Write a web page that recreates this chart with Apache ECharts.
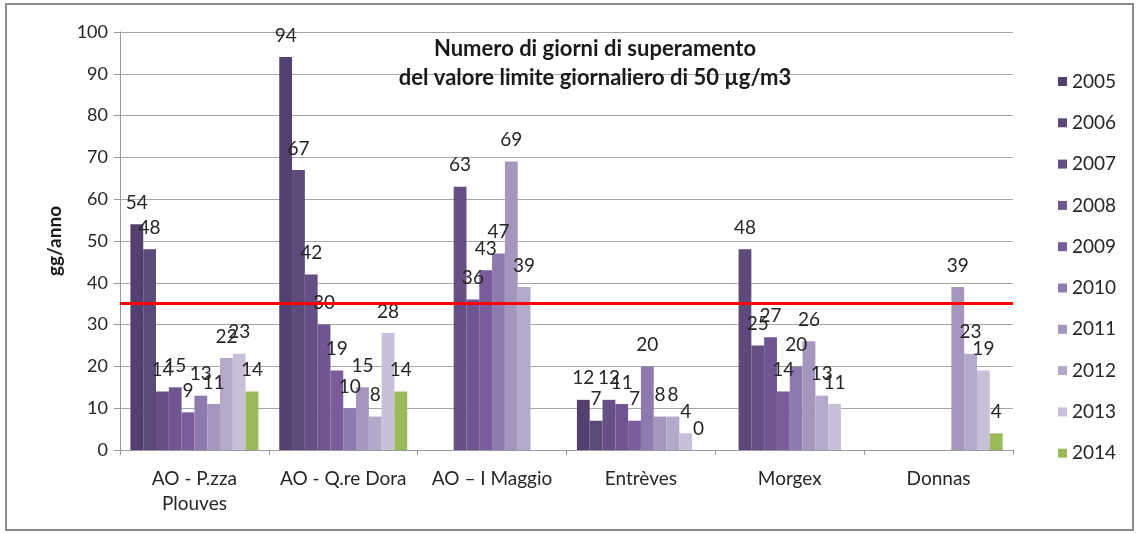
<!DOCTYPE html>
<html>
<head>
  <meta charset="UTF-8">
  <script src="https://cdn.jsdelivr.net/npm/echarts@6/dist/echarts.min.js"></script>
  <style>
    html, body { margin: 0; padding: 0; background: #fff; }
    #chart { width: 1139px; height: 534px; }
  </style>
</head>
<body>
  <div id="chart"></div>
  <script>
    // stations
    var stations = ['AO - P.zza\nPlouves', 'AO - Q.re Dora', 'AO \u2013 I Maggio', 'Entrèves', 'Morgex', 'Donnas'];
    var years = ['2005', '2006', '2007', '2008', '2009', '2010', '2011', '2012', '2013', '2014'];
    // days over the limit, one array per year ('-' = no measurement)
    var y2005 = [54, 94, '-', 12, '-', '-'];
    var y2006 = [48, 67, '-', 7, 48, '-'];
    var y2007 = [14, 42, 63, 12, 25, '-'];
    var y2008 = [15, 30, 36, 11, 27, '-'];
    var y2009 = [9, 19, 43, 7, 14, '-'];
    var y2010 = [13, 10, 47, 20, 20, '-'];
    var y2011 = [11, 15, 69, 8, 26, 39];
    var y2012 = [22, 8, 39, 8, 13, 23];
    var y2013 = [23, 28, '-', 4, 11, 19];
    var y2014 = [14, 14, '-', 0, '-', 4];
    var limitDays = 35;

    var yearData = [y2005, y2006, y2007, y2008, y2009, y2010, y2011, y2012, y2013, y2014];
    var colors = ['#524170', '#5c4a7a', '#664f85', '#6f5690', '#7a5c9a',
                  '#8d7aae', '#a496bd', '#b4a9ca', '#c8bfd9', '#9bbb59'];
    var font = 'Lato, "Open Sans", sans-serif';

    var series = years.map(function (yr, i) {
      var s = {
        name: yr,
        type: 'bar',
        barGap: 0,
        barCategoryGap: '14%',
        data: yearData[i],
        itemStyle: { color: colors[i] },
        label: {
          show: true,
          position: 'top',
          distance: 12,
          color: '#262626',
          fontFamily: font,
          fontSize: 19
        }
      };
      if (i === 0) {
        s.markLine = {
          silent: true,
          symbol: 'none',
          label: { show: false },
          lineStyle: { color: '#ff0000', width: 3, type: 'solid' },
          data: [{ yAxis: limitDays }]
        };
      }
      return s;
    });

    var chart = echarts.init(document.getElementById('chart'));
    chart.setOption({
      animation: false,
      color: colors,
      title: {
        text: 'Numero di giorni di superamento\ndel valore limite giornaliero di 50 µg/m3',
        left: 590,
        textAlign: 'center',
        top: 29,
        textStyle: {
          fontFamily: font,
          fontWeight: 'bold',
          fontSize: 22,
          lineHeight: 29,
          color: '#1a1a1a'
        }
      },
      legend: {
        orient: 'vertical',
        left: 1053,
        top: 67,
        itemWidth: 9,
        itemHeight: 9,
        itemGap: 22.3,
        icon: 'rect',
        data: years,
        textStyle: { fontFamily: font, fontSize: 19, color: '#262626', padding: [0, 0, 0, 0] }
      },
      graphic: [{
        type: 'rect',
        shape: { x: 6, y: 4, width: 1127, height: 526 },
        style: { fill: 'none', stroke: '#8a8a8a', lineWidth: 2 },
        silent: true,
        z: -1
      }],
      grid: { left: 120, right: 126, top: 32, bottom: 84 },
      xAxis: {
        type: 'category',
        data: stations,
        axisLine: { lineStyle: { color: '#9a9a9a', width: 1 } },
        axisTick: { show: true, length: 5, lineStyle: { color: '#9a9a9a' } },
        axisLabel: {
          fontFamily: font,
          fontSize: 19,
          color: '#262626',
          margin: 16,
          lineHeight: 25,
          interval: 0
        }
      },
      yAxis: {
        type: 'value',
        min: 0,
        max: 100,
        interval: 10,
        name: 'gg/anno',
        nameLocation: 'middle',
        nameGap: 56,
        nameRotate: 90,
        nameTextStyle: { fontFamily: font, fontWeight: 'bold', fontSize: 19, color: '#1a1a1a' },
        axisLine: { show: true, lineStyle: { color: '#9a9a9a' } },
        axisTick: { show: true, length: 6, lineStyle: { color: '#9a9a9a' } },
        axisLabel: { fontFamily: font, fontSize: 18, color: '#262626', margin: 12 },
        splitLine: { lineStyle: { color: '#a6a6a6', width: 1 } }
      },
      series: series
    });
  </script>
</body>
</html>
